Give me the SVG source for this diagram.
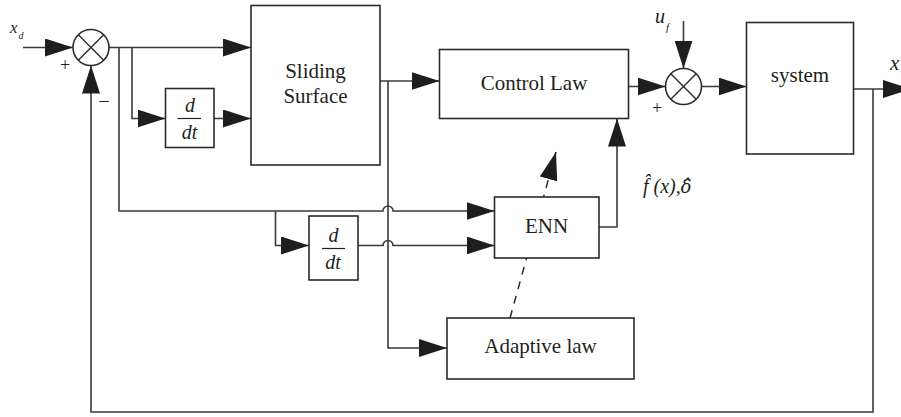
<svg xmlns="http://www.w3.org/2000/svg" width="901" height="417" viewBox="0 0 901 417">
  <defs>
    <marker id="arrow" markerUnits="userSpaceOnUse" markerWidth="28" markerHeight="18" refX="28" refY="9" orient="auto">
      <path d="M0,0 L28,9 L0,18 z" fill="#1e1e1e"/>
    </marker>
    <style>
      .wire { fill: none; stroke: #3a3a3a; stroke-width: 1.6; }
      .dash { fill: none; stroke: #2a2a2a; stroke-width: 1.5; stroke-dasharray: 8 7; }
      .box { fill: #ffffff; stroke: #2a2a2a; stroke-width: 1.6; }
      .sum { fill: #ffffff; stroke: #2a2a2a; stroke-width: 1.6; }
      .cross { stroke: #2a2a2a; stroke-width: 1.4; }
      .label { font-family: "Liberation Serif", "DejaVu Serif", serif; font-size: 21px; fill: #231f20; text-anchor: middle; }
      .math { font-family: "Liberation Serif", "DejaVu Serif", serif; font-style: italic; fill: #231f20; }
      .greek { font-family: "DejaVu Serif", serif; font-size: 18px; }
      .sign { font-family: "Liberation Serif", "DejaVu Serif", serif; font-size: 18px; fill: #231f20; text-anchor: middle; }
    </style>
  </defs>

  <!-- connectors -->
  <g id="connectors">
    <path class="wire" d="M23,47.5 H73" marker-end="url(#arrow)"/>
    <path class="wire" d="M109,47.5 H251" marker-end="url(#arrow)"/>
    <path class="wire" d="M119,47.5 V211 H383 A5,5 0 0 1 393,211 H494.5" marker-end="url(#arrow)"/>
    <path class="wire" d="M132,47.5 V118.5 H165.5" marker-end="url(#arrow)"/>
    <path class="wire" d="M214,118.5 H251" marker-end="url(#arrow)"/>
    <path class="wire" d="M275.5,211 V245.5 H309" marker-end="url(#arrow)"/>
    <path class="wire" d="M358,245.5 H383 A5,5 0 0 1 393,245.5 H494.5" marker-end="url(#arrow)"/>
    <path class="wire" d="M380,81 H439.5" marker-end="url(#arrow)"/>
    <path class="wire" d="M388,81 V348 H447" marker-end="url(#arrow)"/>
    <path class="wire" d="M628.5,86.5 H665.5" marker-end="url(#arrow)"/>
    <path class="wire" d="M683.5,21 V68.5" marker-end="url(#arrow)"/>
    <path class="wire" d="M701.5,86.5 H746.5" marker-end="url(#arrow)"/>
    <path class="wire" d="M853.5,89 H911" marker-end="url(#arrow)"/>
    <path class="wire" d="M873,89 V412 H91 V65.5" marker-end="url(#arrow)"/>
    <path class="wire" d="M599,227 H617 V118.5" marker-end="url(#arrow)"/>
    <path class="dash" d="M510,318 L556,152" marker-end="url(#arrow)"/>
  </g>

  <!-- left summing junction -->
  <g id="sum-error">
    <circle class="sum" cx="91" cy="47.5" r="18"/>
    <line class="cross" x1="78.3" y1="34.8" x2="103.7" y2="60.2"/>
    <line class="cross" x1="103.7" y1="34.8" x2="78.3" y2="60.2"/>
    <text class="sign" x="65" y="71">+</text>
    <text class="sign" x="104" y="106">–</text>
  </g>

  <g id="sliding-surface">
    <rect class="box" x="251" y="5.5" width="129" height="159.5"/>
    <text class="label" x="315.5" y="78">Sliding</text>
    <text class="label" x="315.5" y="103">Surface</text>
  </g>

  <g id="ddt-upper">
    <rect class="box" x="165.5" y="88.5" width="48.5" height="59"/>
    <text class="math" x="190" y="111.5" font-size="20" text-anchor="middle">d</text>
    <line x1="177.5" y1="118.5" x2="201" y2="118.5" stroke="#231f20" stroke-width="1.2"/>
    <text class="math" x="189.5" y="138.5" font-size="20" text-anchor="middle">dt</text>
  </g>

  <g id="ddt-lower">
    <rect class="box" x="309" y="216" width="49" height="64"/>
    <text class="math" x="333.5" y="241.5" font-size="20" text-anchor="middle">d</text>
    <line x1="322" y1="248.5" x2="345" y2="248.5" stroke="#231f20" stroke-width="1.2"/>
    <text class="math" x="333" y="268.5" font-size="20" text-anchor="middle">dt</text>
  </g>

  <g id="control-law">
    <rect class="box" x="439.5" y="49.5" width="189" height="69"/>
    <text class="label" x="534" y="90">Control Law</text>
  </g>

  <!-- right summing junction with disturbance input -->
  <g id="sum-input">
    <circle class="sum" cx="683.5" cy="86.5" r="18"/>
    <line class="cross" x1="670.8" y1="73.8" x2="696.2" y2="99.2"/>
    <line class="cross" x1="696.2" y1="73.8" x2="670.8" y2="99.2"/>
    <text class="sign" x="657" y="114">+</text>
    <text class="math" x="655" y="23" font-size="20">u<tspan font-size="11" dx="1" dy="8">f</tspan></text>
  </g>

  <g id="system">
    <rect class="box" x="746.5" y="22.5" width="107" height="131.5"/>
    <text class="label" x="800" y="82">system</text>
    <text class="math" x="890" y="70" font-size="21">x</text>
  </g>

  <g id="enn">
    <rect class="box" x="494.5" y="197" width="104.5" height="61"/>
    <text class="label" x="546.5" y="233">ENN</text>
    <!-- estimate output label: f-hat(x), delta-hat, using combining circumflex -->
    <text class="math" x="643" y="193" font-size="20">f̂ (x),<tspan class="greek">δ̂</tspan></text>
  </g>

  <g id="adaptive-law">
    <rect class="box" x="447" y="318" width="187" height="61"/>
    <text class="label" x="540.5" y="353">Adaptive law</text>
  </g>

  <g id="reference-input">
    <text class="math" x="10" y="33" font-size="17">x<tspan font-size="10" dx="1" dy="6">d</tspan></text>
  </g>
</svg>
